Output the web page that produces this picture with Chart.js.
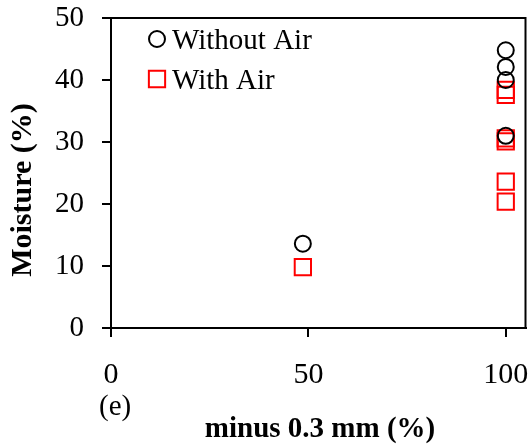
<!DOCTYPE html>
<html>
<head>
<meta charset="utf-8">
<script src="https://cdn.jsdelivr.net/npm/chart.js@4.4.1/dist/chart.umd.min.js"></script>
<style>
  html, body { margin: 0; padding: 0; background: #ffffff; overflow: hidden; }
  #wrap { width: 530px; height: 447px; position: relative; overflow: hidden; }
  #chart { display: block; }
</style>
</head>
<body>
<div id="wrap"><canvas id="chart" width="539" height="447"></canvas></div>
<script>
// Fine fraction (minus 0.3 mm, %) against moisture (%)
const seriesNames = ['Without Air', 'With Air'];
const withoutAirX = [48.6, 100, 100, 100, 100];
const withoutAirY = [13.6, 44.8, 42.1, 40.0, 31.0];
const withAirX = [48.6, 100, 100, 100, 100, 100, 100];
const withAirY = [9.8, 38.4, 37.6, 30.6, 30.1, 23.6, 20.4];
const xTickValues = [0, 50, 100];
const yTickValues = [0, 10, 20, 30, 40, 50];
const xTitle = 'minus 0.3 mm (%)';
const yTitle = 'Moisture (%)';
const panelLabel = '(e)';

const SERIF = '"Liberation Serif", "Times New Roman", serif';

function toPoints(xs, ys) {
  return xs.map((x, i) => ({ x: x, y: ys[i] }));
}

// Frame, axis titles, panel tag and the in-plot legend
const decorations = {
  id: 'decorations',
  afterDraw(chart) {
    const { ctx, chartArea: a } = chart;
    ctx.save();
    ctx.strokeStyle = '#000';
    ctx.lineWidth = 2;
    ctx.beginPath();
    ctx.moveTo(a.left, a.top);
    ctx.lineTo(a.right, a.top);
    ctx.lineTo(a.right, a.bottom);
    ctx.stroke();

    ctx.fillStyle = '#000';
    ctx.textAlign = 'center';
    ctx.textBaseline = 'middle';
    ctx.font = 'bold 29px ' + SERIF;
    ctx.fillText(xTitle, 320, 430);
    ctx.save();
    ctx.font = 'bold 30px ' + SERIF;
    ctx.translate(23, 190);
    ctx.rotate(-Math.PI / 2);
    ctx.fillText(yTitle, 0, 0);
    ctx.restore();

    ctx.font = '29px ' + SERIF;
    ctx.textAlign = 'left';
    ctx.fillText(panelLabel, 99, 407);

    // legend
    const rows = [{ y: 39 }, { y: 79 }];
    ctx.textBaseline = 'alphabetic';
    chart.data.datasets.forEach((ds, i) => {
      const cy = rows[i].y;
      ctx.strokeStyle = ds.borderColor;
      ctx.fillStyle = 'rgba(0,0,0,0)';
      ctx.lineWidth = ds.borderWidth;
      Chart.helpers.drawPoint(ctx, {
        pointStyle: ds.pointStyle,
        radius: ds.pointRadius,
        borderWidth: ds.borderWidth
      }, 157, cy);
      ctx.fillStyle = '#000';
      ctx.font = '29px ' + SERIF;
      ctx.fillText(ds.label, 172, cy + 10);
    });
    ctx.restore();
  }
};

new Chart(document.getElementById('chart'), {
  type: 'scatter',
  data: {
    datasets: [
      {
        label: seriesNames[0],
        data: toPoints(withoutAirX, withoutAirY),
        pointStyle: 'circle',
        pointRadius: 8,
        pointHoverRadius: 8,
        borderColor: '#000000',
        backgroundColor: 'rgba(0,0,0,0)',
        borderWidth: 2
      },
      {
        label: seriesNames[1],
        data: toPoints(withAirX, withAirY),
        pointStyle: 'rect',
        pointRadius: 11.5,
        pointHoverRadius: 11.5,
        borderColor: '#ff0000',
        backgroundColor: 'rgba(0,0,0,0)',
        borderWidth: 2
      }
    ]
  },
  options: {
    responsive: false,
    animation: false,
    devicePixelRatio: 1,
    layout: { padding: { top: 18, right: 4, left: 0, bottom: 0 } },
    plugins: {
      legend: { display: false },
      tooltip: { enabled: false }
    },
    scales: {
      x: {
        type: 'linear',
        min: 0,
        max: 105,
        afterBuildTicks(scale) { scale.ticks = xTickValues.map(v => ({ value: v })); },
        afterFit(scale) {
          scale.height = 119;
          scale.paddingLeft = 0;
          scale.paddingRight = 0;
        },
        grid: { display: true, drawOnChartArea: false, drawTicks: true, tickLength: 9, color: '#000', lineWidth: 2 },
        border: { display: true, color: '#000', width: 2 },
        ticks: {
          color: '#000',
          font: { family: SERIF, size: 30 },
          padding: 20,
          maxRotation: 0
        }
      },
      y: {
        type: 'linear',
        min: 0,
        max: 50,
        afterBuildTicks(scale) { scale.ticks = yTickValues.map(v => ({ value: v })); },
        afterFit(scale) {
          scale.width = 111;
          scale.paddingTop = 0;
          scale.paddingBottom = 0;
        },
        grid: { display: true, drawOnChartArea: false, drawTicks: true, tickLength: 9, color: '#000', lineWidth: 2 },
        border: { display: true, color: '#000', width: 2 },
        ticks: {
          color: '#000',
          font: { family: SERIF, size: 29 },
          padding: 18
        }
      }
    }
  },
  plugins: [decorations]
});
</script>
</body>
</html>
